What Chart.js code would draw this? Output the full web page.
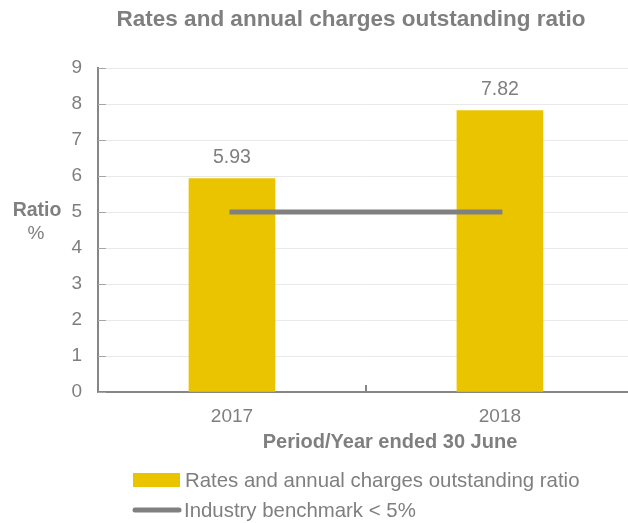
<!DOCTYPE html>
<html>
<head>
<meta charset="utf-8">
<script src="https://cdn.jsdelivr.net/npm/chart.js@4/dist/chart.umd.min.js"></script>
<style>
html,body{margin:0;padding:0;background:#fff;}
canvas{display:block;}
</style>
</head>
<body>
<canvas id="c" width="628" height="523"></canvas>
<script>
const categories = ["2017", "2018"];
const ratioValues = [5.93, 7.82];
const benchmarkValues = [5, 5];
const yTickValues = [0, 1, 2, 3, 4, 5, 6, 7, 8, 9];
const titleText = "Rates and annual charges outstanding ratio";
const xTitleText = "Period/Year ended 30 June";
const yTitleLines = ["Ratio", "%"];
const seriesNames = ["Rates and annual charges outstanding ratio", "Industry benchmark < 5%"];

const GRAY = "#7f7f7f";
const YELLOW = "#EBC400";
const FONT = "'Liberation Sans', Arial, sans-serif";

const overlay = {
  id: "overlay",
  afterDatasetsDraw(chart) {
    const ctx = chart.ctx;
    const x = chart.scales.x, y = chart.scales.y;
    ctx.save();
    // inward y ticks
    ctx.strokeStyle = "#a6a6a6";
    ctx.lineWidth = 1;
    yTickValues.forEach(v => {
      const py = Math.round(y.getPixelForValue(v)) + 0.5;
      ctx.beginPath();
      ctx.moveTo(x.left, py);
      ctx.lineTo(x.left + 8, py);
      ctx.stroke();
    });
    // category boundary tick on x axis
    ctx.strokeStyle = "#868686";
    ctx.lineWidth = 2;
    const bx = Math.round(x.getPixelForValue(0.5));
    ctx.beginPath();
    ctx.moveTo(bx, y.bottom);
    ctx.lineTo(bx, y.bottom - 7);
    ctx.stroke();
    // data labels
    ctx.fillStyle = GRAY;
    ctx.font = "19.5px " + FONT;
    ctx.textAlign = "center";
    ctx.textBaseline = "middle";
    const meta = chart.getDatasetMeta(0);
    meta.data.forEach((bar, i) => {
      ctx.fillText(ratioValues[i].toFixed(2), bar.x, bar.y - 21);
    });
    // title
    ctx.font = "bold 22.5px " + FONT;
    ctx.fillText(titleText, 351, 20);
    // x title
    ctx.font = "bold 20px " + FONT;
    ctx.fillText(xTitleText, 390, 442);
    // y title
    ctx.font = "bold 19.5px " + FONT;
    ctx.fillText(yTitleLines[0], 37, 211);
    ctx.font = "19px " + FONT;
    ctx.fillText(yTitleLines[1], 36, 234);
    // legend
    ctx.textAlign = "left";
    ctx.font = "20.4px " + FONT;
    ctx.fillStyle = YELLOW;
    ctx.fillRect(133, 473, 47, 14);
    ctx.fillStyle = GRAY;
    ctx.fillText(seriesNames[0], 185, 481);
    ctx.strokeStyle = "#808080";
    ctx.lineWidth = 5;
    ctx.lineCap = "round";
    ctx.beginPath();
    ctx.moveTo(135, 510);
    ctx.lineTo(179, 510);
    ctx.stroke();
    ctx.fillText(seriesNames[1], 184, 511);
    ctx.restore();
  }
};

new Chart(document.getElementById("c"), {
  data: {
    datasets: [
      {
        type: "bar",
        label: seriesNames[0],
        data: categories.map((c, i) => ({ x: i, y: ratioValues[i] })),
        backgroundColor: YELLOW,
        borderWidth: 0,
        barThickness: 86,
        order: 2
      },
      {
        type: "line",
        label: seriesNames[1],
        data: categories.map((c, i) => ({ x: i, y: benchmarkValues[i] })),
        borderColor: "#808080",
        borderWidth: 5,
        borderCapStyle: "square",
        pointRadius: 0,
        fill: false,
        order: 1
      }
    ]
  },
  options: {
    responsive: false,
    animation: false,
    devicePixelRatio: 1,
    layout: { padding: { left: 0, right: 0, top: 68, bottom: 0 } },
    plugins: {
      legend: { display: false },
      title: { display: false },
      tooltip: { enabled: false }
    },
    scales: {
      x: {
        type: "linear",
        offset: false,
        min: -0.5,
        max: 1.478,
        afterBuildTicks(scale) { scale.ticks = categories.map((c, i) => ({ value: i })); },
        afterFit(scale) { scale.height = 131; },
        ticks: {
          callback: (v) => categories[v],
          color: GRAY,
          font: { family: FONT, size: 19 },
          padding: 13,
          maxRotation: 0,
          autoSkip: false
        },
        grid: { display: false, drawTicks: false, offset: false },
        border: { display: true, color: "#868686", width: 2 }
      },
      y: {
        min: 0,
        max: 9,
        afterBuildTicks(scale) { scale.ticks = yTickValues.map(v => ({ value: v })); },
        afterFit(scale) { scale.width = 98; },
        ticks: {
          color: GRAY,
          font: { family: FONT, size: 19 },
          padding: 16
        },
        grid: { color: "#e9e9e9", lineWidth: 1, drawTicks: false },
        border: { display: true, color: "#868686", width: 2 }
      }
    }
  },
  plugins: [overlay]
});
</script>
</body>
</html>
